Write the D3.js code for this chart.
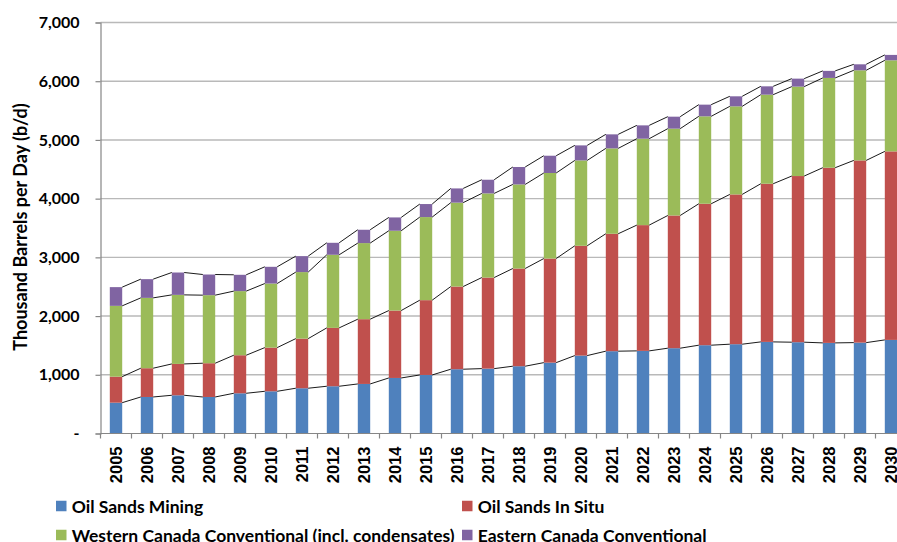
<!DOCTYPE html>
<html>
<head>
<meta charset="utf-8">
<script src="https://cdn.jsdelivr.net/npm/d3@7"></script>
<style>
  html, body { margin: 0; padding: 0; background: #fff; }
  svg { display: block; }
  text { font-family: Lato, "Open Sans", sans-serif; font-weight: bold; fill: #000; }
</style>
</head>
<body>
<svg id="chart" width="897" height="542"></svg>
<script>
// Canadian crude oil production outlook, thousand barrels per day
const years = ["2005","2006","2007","2008","2009","2010","2011","2012","2013","2014","2015","2016","2017",
               "2018","2019","2020","2021","2022","2023","2024","2025","2026","2027","2028","2029","2030"];
const oilSandsMining = [525,622,651,622,685,719,771,805,844,946,997,1095,1105,
                        1146,1207,1327,1402,1407,1453,1504,1521,1560,1555,1543,1548,1594];
const oilSandsInSitu = [443,490,534,575,648,744,845,994,1103,1148,1274,1408,1551,
                        1664,1773,1870,2000,2142,2260,2409,2551,2694,2830,2984,3103,3211];
const westernConventional = [1206,1198,1176,1159,1092,1091,1133,1245,1296,1359,1415,1429,1433,
                             1432,1457,1454,1454,1472,1479,1489,1500,1517,1523,1529,1535,1551];
const easternConventional = [319,319,381,352,278,285,272,204,227,227,222,242,233,
                             297,294,256,239,227,204,199,171,142,136,120,102,92];
const seriesNames = ["Oil Sands Mining", "Oil Sands In Situ",
                     "Western Canada Conventional (incl. condensates)", "Eastern Canada Conventional"];
const seriesColors = ["#4F81BD", "#C0504D", "#9BBB59", "#8064A2"];
const yTicks = [0,1000,2000,3000,4000,5000,6000,7000];

const keys = ["mining","insitu","western","eastern"];
const rows = years.map((yr, i) => ({
  year: yr,
  mining: oilSandsMining[i],
  insitu: oilSandsInSitu[i],
  western: westernConventional[i],
  eastern: easternConventional[i]
}));
const stacked = d3.stack().keys(keys)(rows);

const svg = d3.select("#chart");
const plotLeft = 100.5, plotRight = 906.5, plotTop = 22.5, plotBottom = 433.5;

const x = d3.scaleBand().domain(years).range([plotLeft, plotRight]).paddingInner(0.6).paddingOuter(0.3);
const y = d3.scaleLinear().domain([0, 7000]).range([plotBottom, plotTop]);

// horizontal gridlines
svg.append("g")
  .selectAll("line")
  .data(yTicks.filter(d => d > 0))
  .join("line")
  .attr("x1", plotLeft).attr("x2", 897)
  .attr("y1", d => y(d)).attr("y2", d => y(d))
  .attr("stroke", "#b9b9b9").attr("stroke-width", 1.4);

// stacked bars
const layers = svg.append("g")
  .selectAll("g")
  .data(stacked)
  .join("g")
  .attr("fill", (d, i) => seriesColors[i]);
layers.selectAll("rect")
  .data(d => d)
  .join("rect")
  .attr("x", d => x(d.data.year))
  .attr("width", x.bandwidth())
  .attr("y", d => y(d[1]))
  .attr("height", d => y(d[0]) - y(d[1]));

// series lines joining the top of each segment between neighbouring bars
const segLines = [];
stacked.forEach(layer => {
  for (let i = 0; i < layer.length - 1; i++) {
    segLines.push({
      x1: x(years[i]) + x.bandwidth(), y1: y(layer[i][1]),
      x2: x(years[i + 1]), y2: y(layer[i + 1][1])
    });
  }
});
svg.append("g")
  .selectAll("line")
  .data(segLines)
  .join("line")
  .attr("x1", d => d.x1).attr("y1", d => d.y1)
  .attr("x2", d => d.x2).attr("y2", d => d.y2)
  .attr("stroke", "#000").attr("stroke-width", 0.9);

// y axis
const yAxis = d3.axisLeft(y)
  .tickValues(yTicks)
  .tickSize(5)
  .tickPadding(16)
  .tickFormat(d => d === 0 ? "-" : d3.format(",")(d));
const gy = svg.append("g").attr("transform", `translate(${plotLeft},0)`).call(yAxis);
gy.select(".domain").attr("stroke", "#868686").attr("stroke-width", 1.2);
gy.selectAll(".tick line").attr("stroke", "#868686").attr("stroke-width", 1.2);
gy.selectAll(".tick text")
  .style("font-family", "Lato, sans-serif")
  .style("font-weight", "bold")
  .style("font-size", "16px")
  .attr("fill", "#000");

// x axis: category labels, ticks at category boundaries
const xAxis = d3.axisBottom(x).tickSize(0).tickPadding(0);
const gx = svg.append("g").attr("transform", `translate(0,${plotBottom})`).call(xAxis);
gx.select(".domain").remove();
gx.append("line")
  .attr("x1", plotLeft).attr("x2", 897)
  .attr("stroke", "#868686").attr("stroke-width", 1.2);
const gap = (x.step() - x.bandwidth()) / 2;
const bounds = years.map(d => x(d) - gap).concat([x(years[years.length - 1]) + x.bandwidth() + gap]);
gx.selectAll(".bound")
  .data(bounds)
  .join("line")
  .attr("class", "bound")
  .attr("x1", d => d).attr("x2", d => d)
  .attr("y1", 0).attr("y2", 5)
  .attr("stroke", "#868686").attr("stroke-width", 1.2);
gx.selectAll(".tick text")
  .style("font-family", "'Liberation Sans', Arial, sans-serif")
  .style("font-weight", "bold")
  .style("font-size", "16.5px")
  .attr("fill", "#000")
  .attr("text-anchor", "end")
  .attr("dy", null)
  .attr("y", 0)
  .attr("transform", "translate(0,13) rotate(-90)")
  .attr("dominant-baseline", "central");

// y axis title
svg.append("text")
  .attr("transform", "translate(20,227) rotate(-90)")
  .attr("text-anchor", "middle")
  .attr("dominant-baseline", "central")
  .style("font-size", "18px")
  .text("Thousand Barrels per Day (b/d)");

// legend
const legendPos = [[56, 506], [462, 506], [56, 535], [462, 535]];
const lg = svg.append("g")
  .selectAll("g")
  .data(seriesNames)
  .join("g")
  .attr("transform", (d, i) => `translate(${legendPos[i][0]},${legendPos[i][1]})`);
lg.append("rect")
  .attr("x", 0).attr("y", -5.25)
  .attr("width", 10.5).attr("height", 10.5)
  .attr("fill", (d, i) => seriesColors[i]);
lg.append("text")
  .attr("x", 15.7)
  .attr("dominant-baseline", "central")
  .style("font-size", "17.5px")
  .text(d => d);
</script>
</body>
</html>
